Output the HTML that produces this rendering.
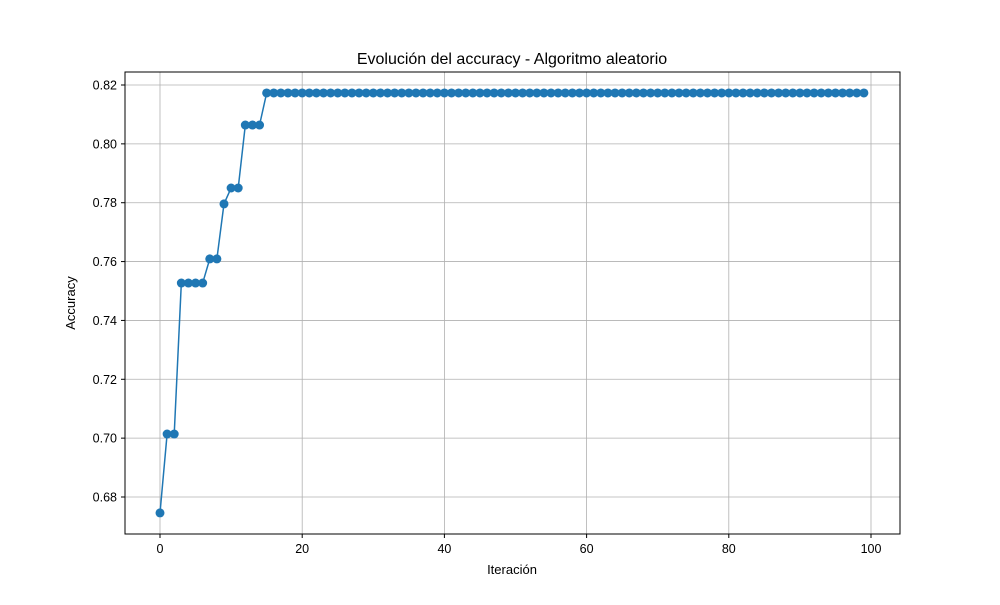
<!DOCTYPE html>
<html><head><meta charset="utf-8"><style>body{margin:0;background:#fff}svg{font-family:"Liberation Sans","DejaVu Sans",sans-serif}</style></head>
<body>
<svg id="chart" width="1000" height="600">
<rect width="1000" height="600" fill="#fff"/>
<g id="grid"></g><g id="series"></g>
<rect x="125" y="72" width="775" height="462" fill="none" stroke="#000" stroke-width="1"/>
<g id="axes" font-size="12.5"></g>
<text x="512" y="64" text-anchor="middle" font-size="16">Evolución del accuracy - Algoritmo aleatorio</text>
<text x="512" y="574" text-anchor="middle" font-size="13">Iteración</text>
<text x="75" y="303" text-anchor="middle" font-size="13" transform="rotate(-90 75 303)">Accuracy</text>
</svg>
<script>
const xTicks=[0,20,40,60,80,100];
const yTicks=[0.68,0.70,0.72,0.74,0.76,0.78,0.80,0.82];
const yTickLabels=["0.68","0.70","0.72","0.74","0.76","0.78","0.80","0.82"];
const accuracy=[0.6746,0.7014,0.7014,0.7527,0.7527,0.7527,0.7527,0.7609,0.7609,0.7796,0.7850,0.7850,0.8064,0.8064,0.8064];
const plateau=0.8173;
const iterations=100;
const sx=v=>160+(v-0)*(871-160)/100;
const sy=v=>497-(v-0.68)*(497-85)/0.14;
const ns="http://www.w3.org/2000/svg";
function mk(t,a,p){const e=document.createElementNS(ns,t);for(const k in a)e.setAttribute(k,a[k]);p.appendChild(e);return e;}
const grid=document.getElementById('grid'),axes=document.getElementById('axes'),ser=document.getElementById('series');
xTicks.forEach(t=>{const x=sx(t);
const g=mk('line',{x1:x,x2:x,y1:72,y2:534,stroke:'#b0b0b0','stroke-width':0.8},grid);


mk('line',{x1:x,x2:x,y1:534,y2:538,stroke:'#000'},axes);
const l=mk('text',{x:x,y:553,'text-anchor':'middle'},axes);l.textContent=t;

});
yTicks.forEach((t,i)=>{const y=sy(t);
const g=mk('line',{x1:125,x2:900,y1:y,y2:y,stroke:'#b0b0b0','stroke-width':0.8},grid);


mk('line',{x1:121,x2:125,y1:y,y2:y,stroke:'#000'},axes);
const l=mk('text',{x:117,y:y+4.5,'text-anchor':'end'},axes);l.textContent=yTickLabels[i];

});
const vals=[];for(let i=0;i<iterations;i++)vals.push(i<accuracy.length?accuracy[i]:plateau);
const pl=mk('polyline',{points:vals.map((v,i)=>sx(i)+','+sy(v)).join(' '),fill:'none',stroke:'#1f77b4','stroke-width':1.5},ser);


vals.forEach((v,i)=>{const c=mk('circle',{cx:sx(i),cy:sy(v),r:4.5,fill:'#1f77b4'},ser);

});
</script>
</body></html>
